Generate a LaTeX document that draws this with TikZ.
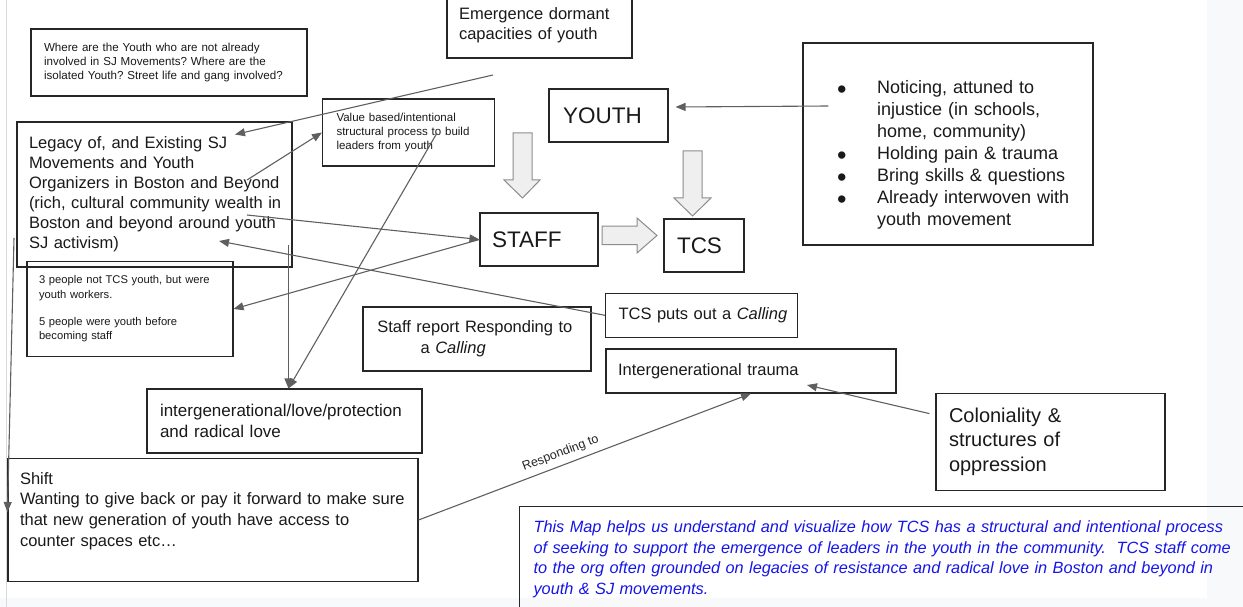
\documentclass[tikz,border=0pt]{standalone}
\usepackage{fontspec}
\setmainfont{Liberation Sans}
\usetikzlibrary{arrows.meta, positioning, calc}
\definecolor{lineGray}{HTML}{5F5F5F}
\definecolor{boxLine}{HTML}{262626}
\definecolor{fatFill}{HTML}{EFEFEF}
\definecolor{fatLine}{HTML}{8C8C8C}
\definecolor{pageTint}{HTML}{F8F9FA}
\definecolor{noteBlue}{HTML}{1515E8}
\frenchspacing
\newcommand{\fsz}[2]{\fontsize{#1}{#2}\selectfont}
\newcommand{\bitem}{\hspace*{24pt}\makebox[40pt][l]{\raisebox{-4.5pt}{\fontsize{27}{22}\selectfont\textbullet}}}
\newcommand{\bcont}{\hspace*{64pt}}
\tikzset{
    box/.style = {draw=boxLine, line width=1.1pt, rectangle, inner sep=0pt, align=left, text=black!90,
        execute at begin node={\rightskip=0pt plus 1fil minus 120pt\relax\hyphenpenalty=10000\relax}},
    link/.style = {draw=lineGray, line width=1.1pt, -{Triangle[length=10pt, width=8pt]}},
    fat/.style = {draw=fatLine, fill=fatFill, line width=1pt}
}

\begin{document}
\begin{tikzpicture}[x=1pt, y=-1pt]
    \useasboundingbox (0,0) rectangle (1243,607);
    % Fondo
    \fill[pageTint] (1207,0) rectangle (1243,607);
    \fill[pageTint] (0,598) rectangle (1243,607);
    \draw[black!15, line width=1pt] (6,0) -- (6,607);

    % Nodes
    \node [box, minimum width=185pt, minimum height=66pt, text width=161pt, font=\fsz{16.5}{19.5}] (emerge) at (539.5,25) {Emergence dormant\\capacities of youth};
    \node [box, minimum width=276pt, minimum height=67pt, text width=250pt, font=\fsz{11.6}{13.9}] (where) at (169,62.5) {Where are the Youth who are not already\\involved in SJ Movements? Where are the\\isolated Youth? Street life and gang involved?};
    \node [box, minimum width=172pt, minimum height=67pt, text width=144pt, font=\fsz{11.5}{14}] (value) at (408.5,132.5) {Value based/intentional\\structural process to build\\leaders from youth};
    \node [box, minimum width=275pt, minimum height=145pt, text width=251pt, font=\fsz{16.5}{20}] (legacy) at (154.5,194.5) {Legacy of, and Existing SJ\\Movements and Youth\\Organizers in Boston and Beyond\\(rich, cultural community wealth in\\Boston and beyond around youth\\SJ activism)};
    \node [box, minimum width=119pt, minimum height=53pt, text width=91pt, font=\fsz{22.5}{26}] (youth) at (608.5,115.5) {YOUTH};
    \node [box, minimum width=118pt, minimum height=53pt, text width=94pt, font=\fsz{22.5}{26}] (staff) at (539,239.5) {STAFF};
    \node [box, minimum width=80pt, minimum height=53pt, text width=54pt, font=\fsz{22.5}{26}] (tcs) at (704,245.5) {TCS};
    \node [box, minimum width=290pt, minimum height=202pt, text width=270pt, font=\fsz{18}{22}] (traits) at (948,144) {\rule{0pt}{35pt}\bitem Noticing, attuned to\\\bcont injustice (in schools,\\\bcont home, community)\\\bitem Holding pain \& trauma\\\bitem Bring skills \& questions\\\bitem Already interwoven with\\\bcont youth movement};
    \node [box, minimum width=206pt, minimum height=95pt, text width=182pt, font=\fsz{11.2}{14.2}] (people) at (130,309) {3 people not TCS youth, but were\\youth workers.\\[13.5pt]5 people were youth before\\becoming staff};
    \node [box, minimum width=192pt, minimum height=44pt, text width=166pt, font=\fsz{16.5}{20}] (calling) at (701.5,315.3) {TCS puts out a \textit{Calling}};
    \node [box, execute at begin node={\leftskip=0pt plus 1fil\relax}, minimum width=228pt, minimum height=64pt, text width=208pt, font=\fsz{16.5}{21}] (report) at (477,339) {Staff report Responding to\\a \textit{Calling}};
    \node [box, minimum width=290pt, minimum height=44pt, text width=266pt, font=\fsz{16.5}{20}] (trauma) at (751,371) {Intergenerational trauma};
    \node [box, minimum width=275pt, minimum height=64pt, text width=249pt, font=\fsz{17}{21}] (love) at (284.5,421) {intergenerational/love/protection\\and radical love};
    \node [box, minimum width=229pt, minimum height=97pt, text width=203pt, font=\fsz{20}{24.5}] (colon) at (1050.5,441.6) {Coloniality \&\\structures of\\oppression};
    \node [box, minimum width=410pt, minimum height=123pt, text width=386pt, font=\fsz{16.5}{20.6}] (shift) at (213,520) {Shift\\Wanting to give back or pay it forward to make sure\\that new generation of youth have access to\\counter spaces etc…\rule[-21.6pt]{0pt}{1pt}};
    \node [box, anchor=north west, inner xsep=14pt, inner ysep=14pt, text width=700pt, text=noteBlue, font=\fsz{16.3}{20.7}\itshape] (note) at (519,506) {This Map helps us understand and visualize how TCS has a structural and intentional process\\of seeking to support the emergence of leaders in the youth in the community.\ \ TCS staff come\\to the org often grounded on legacies of resistance and radical love in Boston and beyond in\\youth \& SJ movements.};
    \coordinate (emergeTail) at (493,75);
    \coordinate (legacyLeft) at (14,238);

    % Arrows
    \draw [link] (emergeTail) -- ($(legacy.center)+(80.5,-60)$);
    \draw [link] ($(legacy.center)+(92.5,-14.5)$) -- (value.west);
    \draw [link] ($(legacy.center)+(92.5,20.5)$) -- (staff.west);
    \draw [link] (staff.west) -- (people.east);
    \draw [link] (calling.west) -- ($(legacy.center)+(64.5,46.5)$);
    \draw [link] ($(value.center)+(28.5,0.5)$) -- ([xshift=4pt]love.north);
    \draw [link] ($(legacy.center)+(134,50.5)$) -- ([xshift=4pt]love.north);
    \draw [link] (legacyLeft) -- ([yshift=8pt]shift.west);
    \draw [link] (shift.east) -- node [sloped, above=2pt, pos=0.44, font=\fsz{12.5}{14}, text=black!85] (resp) {Responding to} (trauma.south);
    \draw [link] ($(colon.west)+(-6,-28)$) -- ($(trauma.center)+(56,14)$);
    \draw [link] ($(traits.west)+(26,-38)$) -- ($(youth.east)+(7,-8.5)$);

    % Fat arrows
    \draw [fat] (513,133) -- (532,133) -- (532,180) -- (540,180) -- (522.5,198) -- (504,180) -- (513,180) -- cycle;
    \draw [fat] (683,151) -- (702,151) -- (702,198) -- (711,198) -- (692.5,216) -- (674,198) -- (683,198) -- cycle;
    \draw [fat] (602,226) -- (637,226) -- (637,218) -- (657,235.5) -- (637,253) -- (637,244.5) -- (602,244.5) -- cycle;
\end{tikzpicture}
\end{document}
